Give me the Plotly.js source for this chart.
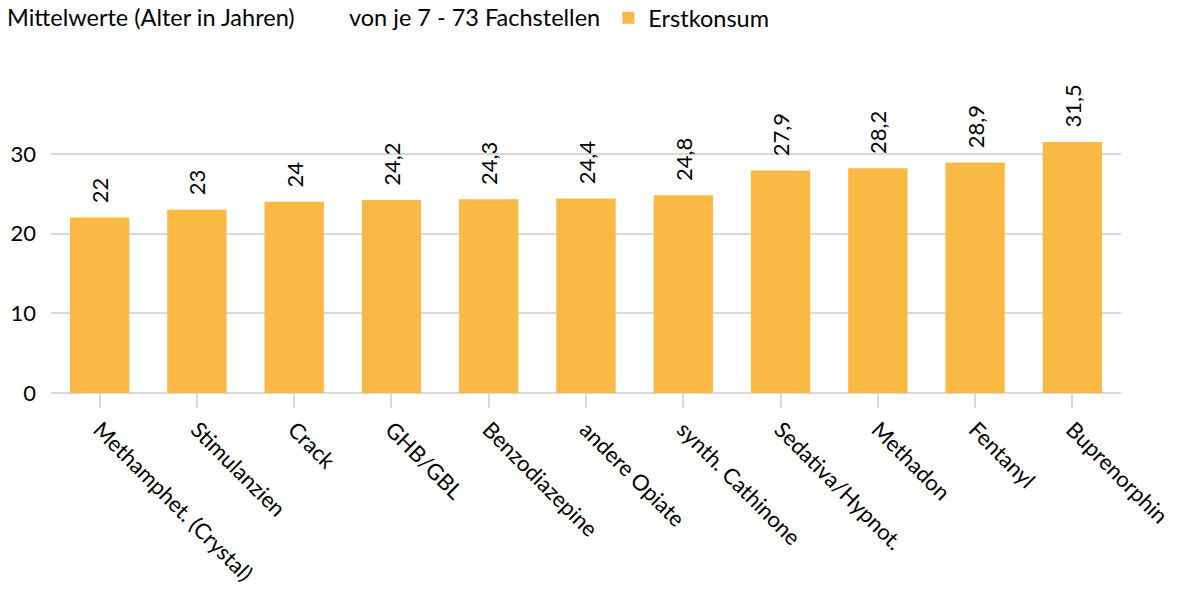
<!DOCTYPE html>
<html><head><meta charset="utf-8">
<script src="https://cdn.plot.ly/plotly-3.0.1.min.js"></script>
<style>body{margin:0;background:#fff}#chart{width:1179px;height:597px}</style>
</head><body><div id="chart"></div>
<script>
const categories = ["Methamphet. (Crystal)","Stimulanzien","Crack","GHB/GBL","Benzodiazepine","andere Opiate","synth. Cathinone","Sedativa/Hypnot.","Methadon","Fentanyl","Buprenorphin"];
const values = [22, 23, 24, 24.2, 24.3, 24.4, 24.8, 27.9, 28.2, 28.9, 31.5];
const valueLabels = ["22","23","24","24,2","24,3","24,4","24,8","27,9","28,2","28,9","31,5"];
const seriesName = "Erstkonsum";
const titleLeft = "Mittelwerte (Alter in Jahren)";
const titleMid = "von je 7 - 73 Fachstellen";
const yTicks = [0, 10, 20, 30];

const FONT = "Lato, 'Noto Sans', sans-serif";
const FS = 22;
const FT = 23.5;
const trace = {
  type: "bar", x: categories, y: values, name: seriesName,
  text: valueLabels.map(s => "\u00a0\u00a0" + s),
  textposition: "outside", textangle: -90, constraintext: "none",
  cliponaxis: false,
  textfont: {family: FONT, size: FS, color: "#000"},
  marker: {color: "#F9B944"},
  hoverinfo: "x+y"
};
const layout = {
  width: 1179, height: 597,
  margin: {l: 51, r: 58, t: 106, b: 204},
  paper_bgcolor: "#fff", plot_bgcolor: "#fff",
  font: {family: FONT, size: FS, color: "#000"},
  bargap: 0.39,
  showlegend: true,
  legend: {orientation: "h", x: 0.516, xanchor: "left", y: 0.97, yanchor: "middle",
           xref: "container", yref: "container",
           font: {family: FONT, size: FT, color: "#000"}, bgcolor: "rgba(0,0,0,0)"},
  xaxis: {type: "category", tickangle: 45, ticks: "outside", ticklen: 14, tickwidth: 2,
          tickcolor: "#d9d9d9", showline: false, showgrid: false, zeroline: false,
          tickfont: {family: FONT, size: FS, color: "#000"}, automargin: false},
  yaxis: {range: [0, 36], tickvals: yTicks, ticktext: yTicks.map(String),
          showgrid: true, gridcolor: "#d9d9d9", gridwidth: 2,
          zeroline: true, zerolinecolor: "#d9d9d9", zerolinewidth: 2,
          showline: false, ticks: "", ticklabelstandoff: 14,
          tickfont: {family: FONT, size: FS, color: "#000"}, automargin: false},
  annotations: [
    {text: titleLeft, xref: "paper", yref: "paper", x: -0.043, y: 1.367, xanchor: "left", yanchor: "top",
     showarrow: false, font: {family: FONT, size: FT, color: "#000"}},
    {text: titleMid, xref: "paper", yref: "paper", x: 0.277, y: 1.367, xanchor: "left", yanchor: "top",
     showarrow: false, font: {family: FONT, size: FT, color: "#000"}}
  ]
};
Plotly.newPlot("chart", [trace], layout, {displayModeBar: false, staticPlot: true});
</script></body></html>
